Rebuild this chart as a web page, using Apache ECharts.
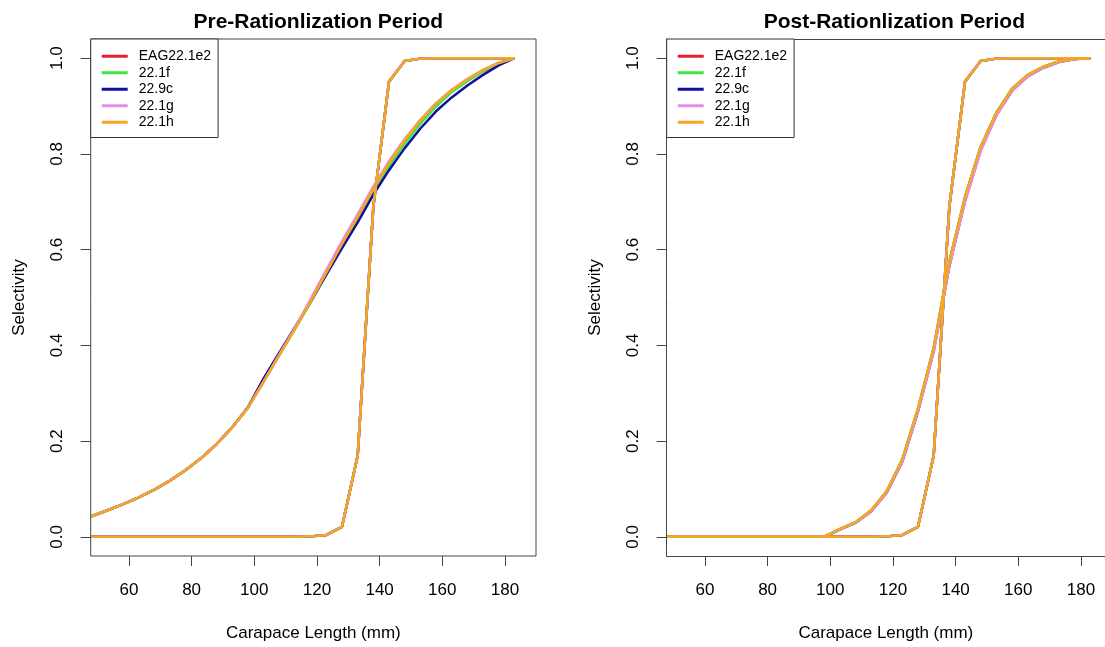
<!DOCTYPE html>
<html>
<head>
<meta charset="utf-8">
<title>Selectivity</title>
<script src="https://cdn.jsdelivr.net/npm/echarts@6/dist/echarts.min.js"></script>
<style>
  html, body { margin: 0; padding: 0; background: #fff; }
  #main { width: 1105px; height: 647px; }
</style>
</head>
<body>
<div id="main"></div>
<script>
// carapace length (mm) at which selectivity was evaluated
const lengths = [48, 53, 58, 63, 68, 73, 78, 83, 88, 93, 98, 103, 108, 113,
  118, 123, 128, 133, 138, 143, 148, 153, 158, 163, 168, 173, 178, 183];

const models = ['EAG22.1e2', '22.1f', '22.9c', '22.1g', '22.1h'];
const colors = ['#e8202a', '#3ee63e', '#1010a0', '#e88ae8', '#f5a623'];

const xTicks = [60, 80, 100, 120, 140, 160, 180];
const yTicks = [0, 0.2, 0.4, 0.6, 0.8, 1.0];

// knife-edge curve, same for every model and both periods
const steep = [0, 0, 0, 0, 0, 0, 0, 0, 0, 0, 0, 0, 0, 0,
  0.001, 0.004, 0.021, 0.170, 0.690, 0.951, 0.994, 0.999, 1, 1, 1, 1, 1, 1];

// pre-rationalization, gentle curves
const preEAG = [0.043, 0.055, 0.068, 0.082, 0.098, 0.117, 0.139, 0.164, 0.194, 0.229, 0.270, 0.325, 0.380, 0.435,
  0.492, 0.552, 0.612, 0.668, 0.727, 0.781, 0.829, 0.870, 0.905, 0.933, 0.956, 0.975, 0.990, 1.000];
const pre1f = [0.043, 0.055, 0.068, 0.082, 0.098, 0.117, 0.139, 0.164, 0.194, 0.229, 0.270, 0.325, 0.380, 0.435,
  0.490, 0.549, 0.607, 0.662, 0.720, 0.774, 0.822, 0.863, 0.899, 0.929, 0.952, 0.972, 0.988, 1.000];
const pre9c = [0.043, 0.055, 0.068, 0.082, 0.098, 0.117, 0.139, 0.164, 0.194, 0.229, 0.271, 0.331, 0.385, 0.438,
  0.492, 0.548, 0.603, 0.657, 0.715, 0.766, 0.812, 0.853, 0.889, 0.918, 0.943, 0.965, 0.985, 1.000];
const pre1g = [0.043, 0.055, 0.068, 0.082, 0.098, 0.117, 0.139, 0.164, 0.194, 0.229, 0.270, 0.325, 0.381, 0.437,
  0.497, 0.558, 0.618, 0.674, 0.732, 0.785, 0.831, 0.871, 0.906, 0.934, 0.956, 0.975, 0.990, 1.000];
const pre1h = [0.043, 0.055, 0.068, 0.082, 0.098, 0.117, 0.139, 0.164, 0.194, 0.229, 0.270, 0.325, 0.380, 0.435,
  0.492, 0.552, 0.612, 0.668, 0.727, 0.781, 0.829, 0.870, 0.905, 0.933, 0.956, 0.975, 0.990, 1.000];

// post-rationalization, gentle curves
const postEAG = [0, 0, 0, 0, 0, 0, 0, 0, 0, 0, 0, 0.016, 0.030, 0.055,
  0.095, 0.162, 0.268, 0.395, 0.575, 0.710, 0.815, 0.886, 0.936, 0.965, 0.982, 0.993, 0.998, 1.000];
const post1f = [0, 0, 0, 0, 0, 0, 0, 0, 0, 0, 0, 0.016, 0.030, 0.055,
  0.095, 0.162, 0.268, 0.395, 0.575, 0.710, 0.815, 0.886, 0.936, 0.965, 0.982, 0.993, 0.998, 1.000];
const post9c = [0, 0, 0, 0, 0, 0, 0, 0, 0, 0, 0, 0.015, 0.029, 0.053,
  0.092, 0.157, 0.262, 0.388, 0.566, 0.702, 0.808, 0.881, 0.932, 0.962, 0.980, 0.992, 0.998, 1.000];
const post1g = [0, 0, 0, 0, 0, 0, 0, 0, 0, 0, 0, 0.015, 0.029, 0.053,
  0.092, 0.157, 0.262, 0.385, 0.565, 0.700, 0.806, 0.880, 0.932, 0.962, 0.980, 0.992, 0.998, 1.000];
const post1h = [0, 0, 0, 0, 0, 0, 0, 0, 0, 0, 0, 0.016, 0.030, 0.055,
  0.095, 0.162, 0.268, 0.395, 0.575, 0.710, 0.815, 0.886, 0.936, 0.965, 0.982, 0.993, 0.998, 1.000];

const preCurves = [preEAG, pre1f, pre9c, pre1g, pre1h];
const postCurves = [postEAG, post1f, post9c, post1g, post1h];

const FONT = "'Liberation Sans', Arial, sans-serif";
const LINE = '#444';
const panelLeft = [90.7, 666.7];
const panelW = 445.3;            // full box width (right panel is cut by the page edge)
const pxPerMm = panelW / (189.9 - 47.8);
const rightW = 1105 - panelLeft[1];
const xMax = [189.9, 47.8 + rightW / pxPerMm];

function pairs(ys) {
  return lengths.map((x, i) => [x, ys[i]]);
}

function makeXAxis(idx) {
  return {
    type: 'value', gridIndex: idx, min: 47.8, max: xMax[idx],
    name: 'Carapace Length (mm)', nameLocation: 'middle', nameGap: 69,
    nameTextStyle: { fontFamily: FONT, fontSize: 17, color: '#000' },
    axisLine: { show: idx === 1, onZero: false, lineStyle: { color: LINE } },
    axisTick: { show: true, length: 10, customValues: xTicks, lineStyle: { color: LINE } },
    axisLabel: { customValues: xTicks, margin: 26, fontFamily: FONT, fontSize: 17, color: '#000' },
    splitLine: { show: false }
  };
}

function makeYAxis(idx) {
  return {
    type: 'value', gridIndex: idx, min: -0.04, max: 1.04,
    name: 'Selectivity', nameLocation: 'middle', nameGap: 63,
    nameTextStyle: { fontFamily: FONT, fontSize: 17, color: '#000' },
    axisLine: { show: idx === 1, onZero: false, lineStyle: { color: LINE } },
    axisTick: { show: true, length: 10, customValues: yTicks, lineStyle: { color: LINE } },
    axisLabel: {
      customValues: yTicks, rotate: 90, margin: 25,
      fontFamily: FONT, fontSize: 17, color: '#000',
      formatter: v => v.toFixed(1)
    },
    splitLine: { show: false }
  };
}

function makeLegend(idx) {
  return {
    data: models, orient: 'vertical',
    left: panelLeft[idx], top: 39,
    padding: [9, 7, 7, 11],
    itemGap: 0, itemWidth: 26, itemHeight: 3, icon: 'rect',
    borderColor: '#333', borderWidth: 1, backgroundColor: '#fff',
    textStyle: { fontFamily: FONT, fontSize: 14, lineHeight: 16.5, color: '#000', padding: [0, 0, 0, 6] }
  };
}

const series = [];
[preCurves, postCurves].forEach((curves, p) => {
  models.forEach((m, k) => {
    [curves[k], steep].forEach(ys => {
      series.push({
        name: m, type: 'line', xAxisIndex: p, yAxisIndex: p,
        data: pairs(ys), showSymbol: false, symbol: 'none',
        color: colors[k], lineStyle: { width: 2.5, color: colors[k] },
        z: 2 + k, animation: false
      });
    });
  });
});

// top edge of the right box (its right edge lies beyond the page)
const topEdge = {
  type: 'value', gridIndex: 1, position: 'top', min: 47.8, max: xMax[1],
  axisLine: { show: true, onZero: false, lineStyle: { color: LINE } },
  axisTick: { show: false }, axisLabel: { show: false }, splitLine: { show: false }
};

const chart = echarts.init(document.getElementById('main'));
chart.setOption({
  backgroundColor: '#fff',
  animation: false,
  title: [
    { text: 'Pre-Rationlization Period', left: panelLeft[0] + panelW / 2, top: 7, textAlign: 'center',
      textStyle: { fontFamily: FONT, fontSize: 21, fontWeight: 'bold', color: '#000' } },
    { text: 'Post-Rationlization Period', left: panelLeft[1] + panelW / 2, top: 7, textAlign: 'center',
      textStyle: { fontFamily: FONT, fontSize: 21, fontWeight: 'bold', color: '#000' } }
  ],
  legend: [makeLegend(0), makeLegend(1)],
  grid: [
    { left: panelLeft[0], top: 39, width: panelW, height: 519, show: true, borderColor: LINE, borderWidth: 1, backgroundColor: 'transparent' },
    { left: panelLeft[1], top: 39, width: rightW, height: 519, show: false }
  ],
  xAxis: [makeXAxis(0), makeXAxis(1), topEdge],
  yAxis: [makeYAxis(0), makeYAxis(1)],
  series: series
});
</script>
</body>
</html>
